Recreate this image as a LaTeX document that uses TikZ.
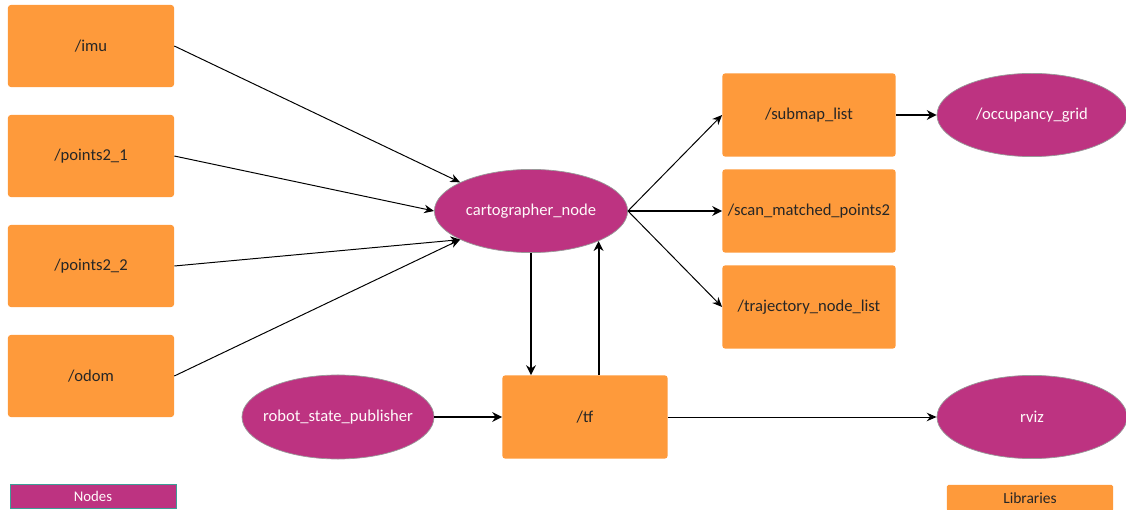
\documentclass[tikz,border=0pt]{standalone}
\usepackage{fontspec}
\setmainfont{Carlito}
\usetikzlibrary{shapes.geometric, arrows.meta, positioning}
\usepackage{xcolor}
\definecolor{liborange}{HTML}{FE9A3B}
\definecolor{nodepink}{HTML}{BD3381}
\definecolor{legendteal}{HTML}{3E9E96}

\begin{document}
\begin{tikzpicture}[x=0.025cm, y=-0.025cm,
    lib/.style={rectangle, rounded corners=2pt, fill=liborange, text=black!85,
      minimum width=4.15cm, minimum height=2.05cm, inner sep=0pt,
      font=\fontsize{11.8}{14}\selectfont},
    rosnode/.style={ellipse, fill=nodepink, draw=gray!80, line width=0.5pt,
      text=white!92!pink, minimum width=4.83cm, minimum height=2.08cm,
      inner sep=0pt, font=\fontsize{11.8}{14}\selectfont},
    thinarrow/.style={-{Stealth[length=7pt, width=6pt]}, line width=0.7pt},
    thickarrow/.style={-{Stealth[length=7pt, width=7pt]}, line width=1.3pt}]
    \useasboundingbox (0,0) rectangle (1126,510);

    % inputs
    \node[lib] (imu) at (91,46) {/imu};
    \node[lib] (pointsone) at (91,156) {/points2\_1};
    \node[lib] (pointstwo) at (91,266) {/points2\_2};
    \node[lib] (odom) at (91,376) {/odom};

    % main nodes
    \node[rosnode] (carto) at (531,211) {cartographer\_node};
    \node[rosnode, minimum width=4.8cm, minimum height=2.1cm, inner xsep=-0.25cm] (rsp) at (338,417) {robot\_state\_publisher};
    \node[lib, minimum width=4.13cm, minimum height=2.08cm] (tf) at (585,417) {/tf};

    % outputs
    \node[lib, minimum width=4.33cm, minimum height=2.08cm] (submap) at (809,115) {/submap\_list};
    \node[lib, minimum width=4.33cm, minimum height=2.08cm] (scan) at (809,211) {/scan\_matched\_points2};
    \node[lib, minimum width=4.33cm, minimum height=2.08cm] (traj) at (809,307) {/trajectory\_node\_list};
    \node[rosnode, minimum width=4.75cm] (occgrid) at (1032,115) {/occupancy\_grid};
    \node[rosnode, minimum width=4.75cm] (rviz) at (1032,417) {rviz};

    % legend
    \node[rectangle, fill=nodepink, draw=legendteal, line width=0.6pt, text=white!92!pink,
      minimum width=4.15cm, minimum height=0.6cm, inner sep=0pt,
      font=\fontsize{10.5}{12}\selectfont] (legnodes) at (93,496) {Nodes};
    \node[lib, rounded corners=1pt, minimum height=0.65cm,
      font=\fontsize{11}{13}\selectfont] (leglibs) at (1030,498) {Libraries};

    \draw[thinarrow] (imu.east) -- (carto.158);
    \draw[thinarrow] (pointsone.east) -- (carto.west);
    \draw[thinarrow] (pointstwo.east) -- (carto.202);
    \draw[thinarrow] (odom.east) -- (carto.202);

    \draw[thinarrow] (carto.east) -- (submap.west);
    \draw[thickarrow] (carto.east) -- (scan.west);
    \draw[thinarrow] (carto.east) -- (traj.west);
    \draw[thickarrow] (submap.east) -- (occgrid.west);

    \draw[thickarrow] (carto.south) -- (carto.south |- tf.north);
    \draw[thickarrow] (tf.north -| carto.336) -- (carto.336);
    \draw[thickarrow] (rsp.east) -- (tf.west);
    \draw[thinarrow] (tf.east) -- (rviz.west);
\end{tikzpicture}
\end{document}
